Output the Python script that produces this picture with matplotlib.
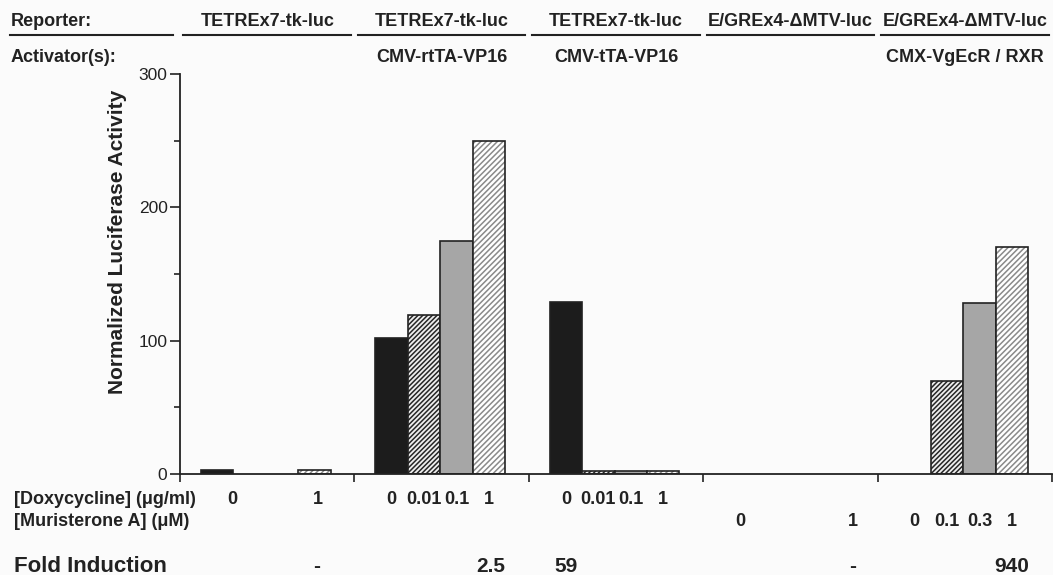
import matplotlib
matplotlib.use("Agg")
import matplotlib.pyplot as plt
from matplotlib.transforms import blended_transform_factory

# bars: group index, slot inside the group, value, fill style
bar_group = [0, 0, 1, 1, 1, 1, 2, 2, 2, 2, 3, 3, 4, 4, 4, 4]
bar_slot = [0, 3, 0, 1, 2, 3, 0, 1, 2, 3, 0, 3, 0, 1, 2, 3]
bar_value = [3, 3, 102, 119, 175, 250, 129, 2, 2, 2, 0, 0, 0, 70, 128, 170]
bar_style = ["solid", "light", "solid", "dark", "gray", "light",
             "solid", "dark", "gray", "light", "solid", "light",
             "solid", "dark", "gray", "light"]

reporters = ["TETREx7-tk-luc", "TETREx7-tk-luc", "TETREx7-tk-luc",
             "E/GREx4-\u0394MTV-luc", "E/GREx4-\u0394MTV-luc"]
activators = ["", "CMV-rtTA-VP16", "CMV-tTA-VP16", "", "CMX-VgEcR / RXR"]

dox_group = [0, 0, 1, 1, 1, 1, 2, 2, 2, 2]
dox_slot = [0.46, 3.1, 0, 1, 2, 3, 0, 1, 2, 3]
dox_text = ["0", "1", "0", "0.01", "0.1", "1", "0", "0.01", "0.1", "1"]

mur_group = [3, 3, 4, 4, 4, 4]
mur_slot = [0, 3.48, 0, 1, 2, 3]
mur_text = ["0", "1", "0", "0.1", "0.3", "1"]

fold_group = [0, 1, 2, 3, 4]
fold_slot = [3.07, 3.07, 0, 3.47, 3]
fold_text = ["-", "2.5", "59", "-", "940"]

W, H = 1053, 575
BW = 0.186
OFF = 0.12
sans = ["Liberation Sans", "DejaVu Sans"]
ink = "#222222"

plt.rcParams["hatch.linewidth"] = 1.1

fig = plt.figure(figsize=(W / 100, H / 100), dpi=100, facecolor="#fbfbfb")
ax = fig.add_axes([180 / W, 1 - 474 / H, (1052 - 180) / W, 400 / H])
ax.set_facecolor("none")


def slot_x(g, s):
    return g + OFF + s * BW


for g, s, v, st in zip(bar_group, bar_slot, bar_value, bar_style):
    x = slot_x(g, s)
    if v <= 0:
        continue
    if st == "solid":
        ax.bar(x, v, BW, align="edge", color="#1c1c1c", edgecolor=ink, lw=1.2)
    elif st == "gray":
        ax.bar(x, v, BW, align="edge", color="#a6a6a6", edgecolor=ink, lw=1.2)
    elif st == "dark":
        ax.bar(x, v, BW, align="edge", color="#eeeeee", edgecolor="#262626",
               hatch="///////", lw=0)
        ax.bar(x, v, BW, align="edge", fill=False, edgecolor=ink, lw=1.2)
    else:
        ax.bar(x, v, BW, align="edge", color="white", edgecolor="#8a8a8a",
               hatch="//////", lw=0)
        ax.bar(x, v, BW, align="edge", fill=False, edgecolor=ink, lw=1.2)

ax.set_xlim(0, 5)
ax.set_ylim(0, 300)
for side in ["top", "right"]:
    ax.spines[side].set_visible(False)
for side in ["left", "bottom"]:
    ax.spines[side].set_color(ink)
    ax.spines[side].set_linewidth(1.3)
ax.set_yticks([0, 100, 200, 300])
ax.set_yticks([50, 150, 250], minor=True)
ax.set_xticks([0, 1, 2, 3, 4, 5])
ax.set_xticklabels([])
ax.tick_params(axis="y", which="major", length=7, width=1.2, color=ink,
               labelsize=12.5, pad=2)
ax.tick_params(axis="y", which="minor", length=4, width=1.2, color=ink)
ax.tick_params(axis="x", length=6, width=1.2, color=ink, direction="out")
for lab in ax.get_yticklabels():
    lab.set_family(sans)
    lab.set_color(ink)

fig.text(118 / W, 1 - 242 / H, "Normalized Luciferase Activity", rotation=90,
         ha="center", va="center", fontsize=15, fontweight="bold",
         family=sans, color=ink)

# header rows
tr = blended_transform_factory(ax.transData, fig.transFigure)
fig.text(11 / W, 1 - 21 / H, "Reporter:", fontsize=13, fontweight="bold",
         family=sans, color=ink, va="center")
fig.text(11 / W, 1 - 58 / H, "Activator(s):", fontsize=13, fontweight="bold",
         family=sans, color=ink, va="center")
fig.add_artist(plt.Line2D([10 / W, 173 / W], [1 - 35 / H] * 2, color=ink, lw=1.5))
for g, (rep, act) in enumerate(zip(reporters, activators)):
    ax.text(g + 0.5, 1 - 21 / H, rep, transform=tr, ha="center", va="center",
            fontsize=13, fontweight="bold", family=sans, color=ink)
    ax.text(g + 0.5, 1 - 58 / H, act, transform=tr, ha="center", va="center",
            fontsize=13, fontweight="bold", family=sans, color=ink)
    ax.plot([g + 0.02, g + 0.98], [1 - 35 / H] * 2, transform=tr, color=ink,
            lw=1.5, clip_on=False)

# condition rows
y_dox, y_mur, y_fold = 1 - 500 / H, 1 - 521 / H, 1 - 566 / H
fig.text(14 / W, y_dox, "[Doxycycline] (\u03bcg/ml)", fontsize=13,
         fontweight="bold", family=sans, color=ink, va="center")
fig.text(14 / W, y_mur, "[Muristerone A] (\u03bcM)", fontsize=13,
         fontweight="bold", family=sans, color=ink, va="center")
for g, s, t in zip(dox_group, dox_slot, dox_text):
    ax.text(slot_x(g, s) + BW / 2, y_dox, t, transform=tr, ha="center",
            va="center", fontsize=13, fontweight="bold", family=sans, color=ink)
for g, s, t in zip(mur_group, mur_slot, mur_text):
    ax.text(slot_x(g, s) + BW / 2, y_mur, t, transform=tr, ha="center",
            va="center", fontsize=13, fontweight="bold", family=sans, color=ink)

fig.text(14 / W, y_fold, "Fold Induction", fontsize=16, fontweight="bold",
         family=sans, color=ink, va="center")
for g, s, t in zip(fold_group, fold_slot, fold_text):
    ax.text(slot_x(g, s) + BW / 2, y_fold, t, transform=tr, ha="center",
            va="center", fontsize=15, fontweight="bold", family=sans, color=ink)

fig.savefig("out.png", dpi=100, facecolor=fig.get_facecolor())
